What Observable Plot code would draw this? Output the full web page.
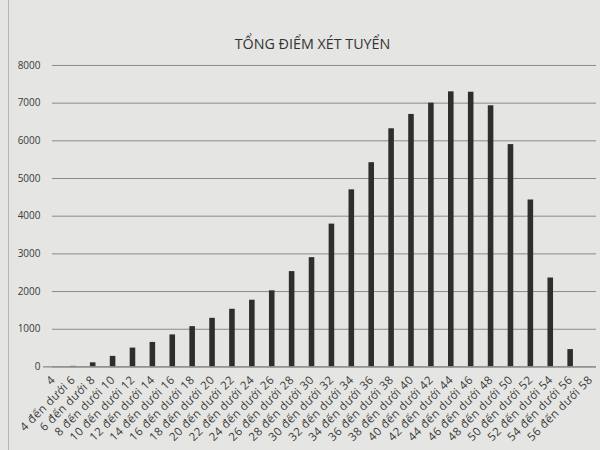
<!DOCTYPE html>
<html>
<head>
<meta charset="utf-8">
<script src="https://cdn.jsdelivr.net/npm/d3@7"></script>
<script src="https://cdn.jsdelivr.net/npm/@observablehq/plot@0.6"></script>
<style>
  html, body { margin: 0; padding: 0; background: #e5e5e3; }
  #wrap { position: relative; height: 450px; overflow: hidden; border-left: 1px solid #b5b5b3; box-sizing: border-box; margin-left: 8px; width: 592px; }
  #title { height: 40px; text-align: center; font-family: "Open Sans", "Noto Sans", sans-serif; font-size: 14.3px; color: #333; line-height: 20px; box-sizing: border-box; position: relative; }
  #title span { position: absolute; left: 0; right: 0; top: 34px; transform: translateX(8px); }
  #chart svg { display: block; }
  #chart g[aria-label="x-axis tick label"] text { letter-spacing: 0.45px; }
</style>
</head>
<body>
<div id="wrap">
  <div id="title"><span>TỔNG ĐIỂM XÉT TUYỂN</span></div>
  <div id="chart"></div>
</div>
<script>
const categories = [
  "4", "4 đến dưới 6", "6 đến dưới 8", "8 đến dưới 10", "10 đến dưới 12",
  "12 đến dưới 14", "14 đến dưới 16", "16 đến dưới 18", "18 đến dưới 20",
  "20 đến dưới 22", "22 đến dưới 24", "24 đến dưới 26", "26 đến dưới 28",
  "28 đến dưới 30", "30 đến dưới 32", "32 đến dưới 34", "34 đến dưới 36",
  "36 đến dưới 38", "38 đến dưới 40", "40 đến dưới 42", "42 đến dưới 44",
  "44 đến dưới 46", "46 đến dưới 48", "48 đến dưới 50", "50 đến dưới 52",
  "52 đến dưới 54", "54 đến dưới 56", "56 đến dưới 58"
];
const counts = [
  0, 15, 110, 280, 500, 650, 850, 1070, 1290, 1530, 1770, 2020, 2530, 2900,
  3790, 4700, 5420, 6320, 6700, 7000, 7300, 7290, 6930, 5900, 4430, 2360, 460, 0
];
const yTicks = [0, 1000, 2000, 3000, 4000, 5000, 6000, 7000, 8000];

const data = categories.map((c, i) => ({category: c, count: counts[i]}));

const chart = Plot.plot({
  width: 592,
  height: 410,
  marginLeft: 34,
  marginRight: 0,
  marginTop: 25,
  marginBottom: 83,
  style: {
    background: "transparent",
    fontFamily: "'Open Sans', 'Noto Sans', sans-serif",
    fontSize: "10px",
    color: "#3a3a3a"
  },
  x: {
    domain: categories,
    paddingInner: 0.72,
    paddingOuter: 0.36,
    round: false,
    label: null
  },
  y: {
    domain: [0, 8000],
    label: null
  },
  marks: [
    Plot.gridY(yTicks, {stroke: "#8a8a88", strokeOpacity: 1, strokeWidth: 1, insetLeft: 9, insetRight: 4}),
    Plot.barY(data, {x: "category", y: "count", fill: "#2e2e2e"}),
    Plot.ruleY([0], {stroke: "#8a8a88", strokeWidth: 1.2, insetRight: 4}),
    Plot.axisY(yTicks, {tickSize: 0, tickPadding: 3, tickFormat: d => String(d), fontSize: 10}),
    Plot.axisX({tickSize: 0, tickPadding: 11, tickRotate: -45, fontSize: 11.5})
  ]
});
document.getElementById("chart").appendChild(chart);
</script>
</body>
</html>
